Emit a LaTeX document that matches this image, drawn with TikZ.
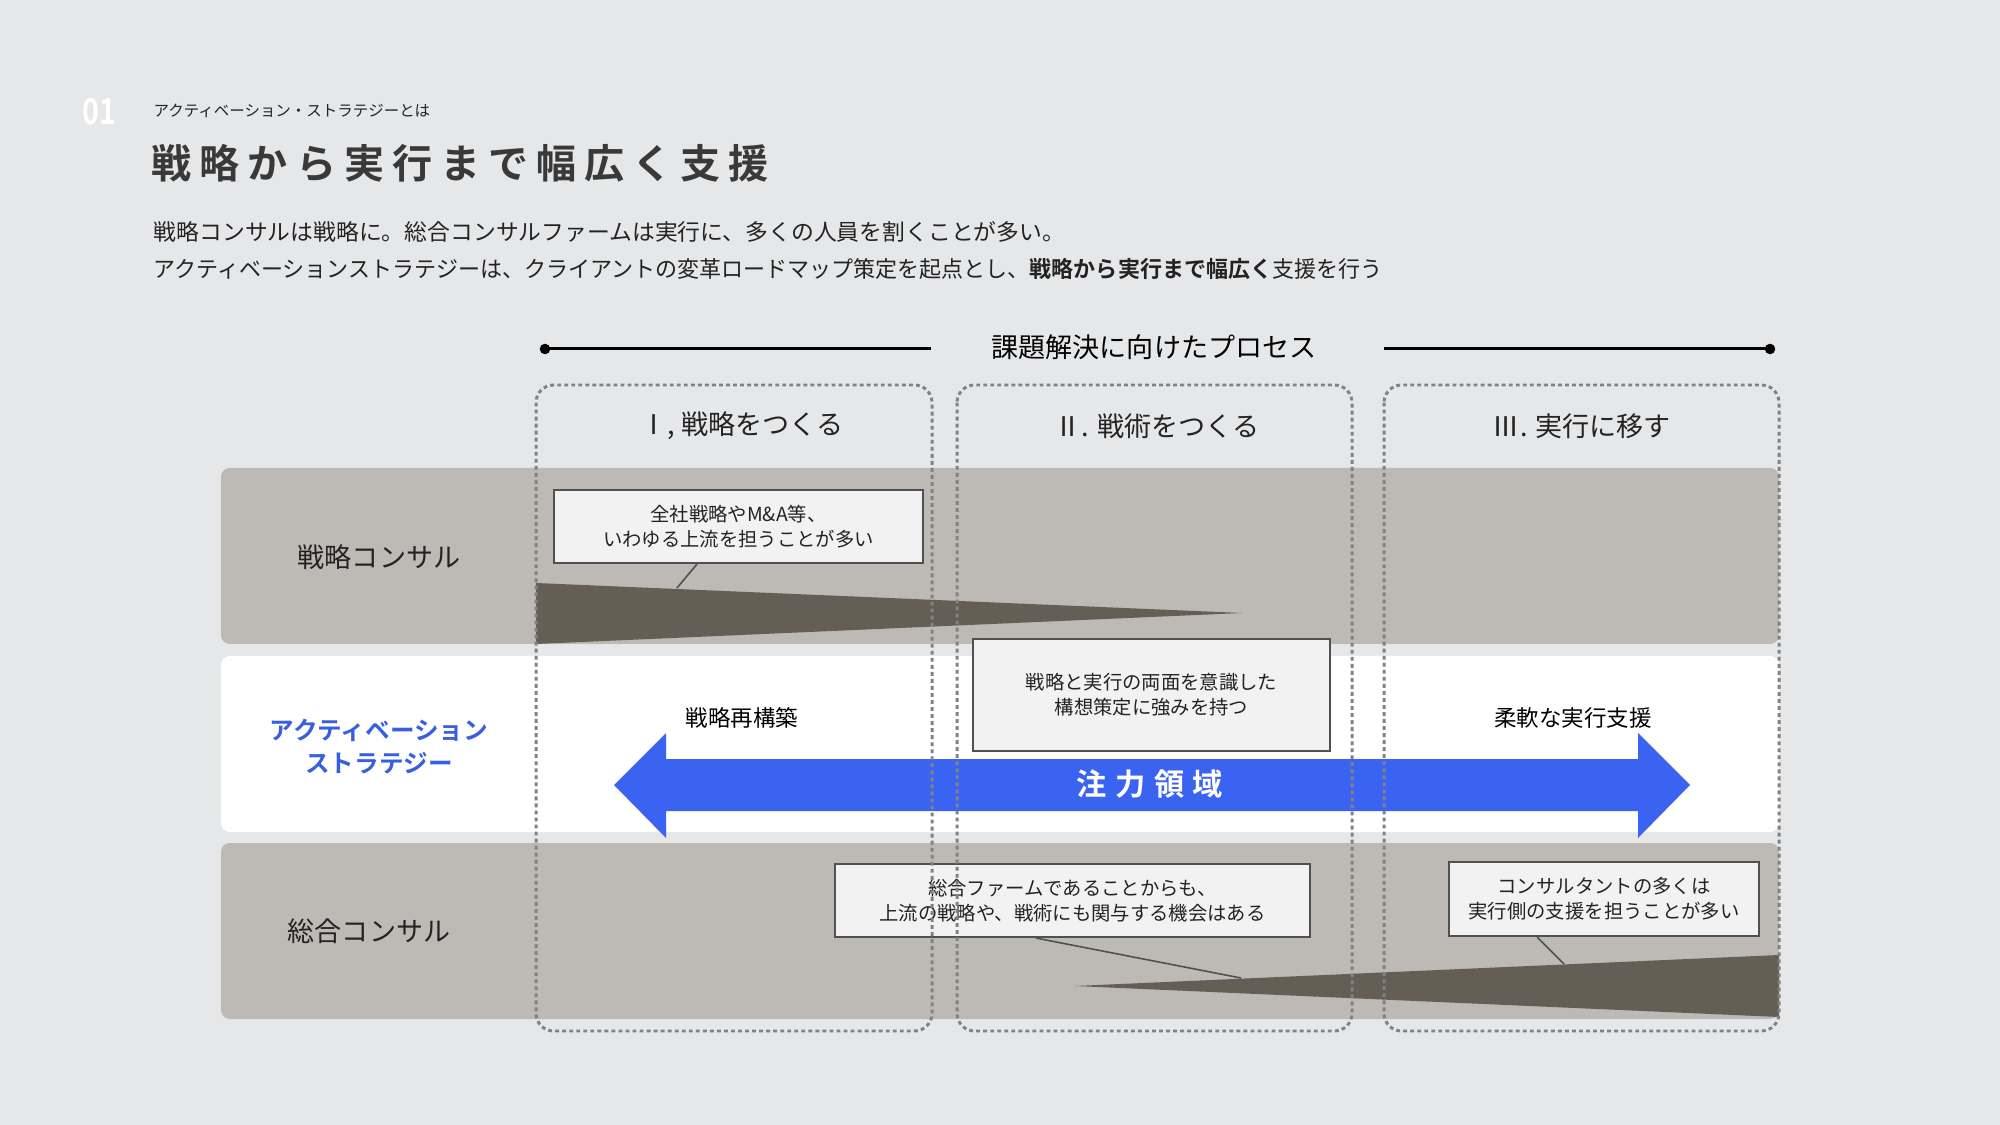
\documentclass[tikz,border=0pt]{standalone}
\usepackage{fontspec}
\usetikzlibrary{calc}
\setmainfont{Noto Sans CJK JP}[BoldFont={Noto Sans CJK JP Bold}]
\newfontfamily\titlefont{Noto Sans CJK JP Bold}[LetterSpace=20]
\newfontfamily\focusfont{Noto Sans CJK JP Bold}[LetterSpace=28]
\definecolor{bg}{RGB}{230,231,233}
\definecolor{bandgray}{RGB}{189,185,180}
\definecolor{darktri}{RGB}{100,94,85}
\definecolor{ablue}{RGB}{59,99,242}
\definecolor{textblue}{RGB}{55,95,225}
\definecolor{dotgray}{RGB}{130,130,130}
\definecolor{boxedge}{RGB}{80,80,80}
\definecolor{boxfill}{RGB}{242,242,242}
\definecolor{txt}{RGB}{35,35,35}
\tikzset{
  colbox/.style={draw=dotgray, line width=0.85pt, dash pattern=on 1.1pt off 0.9pt, rounded corners=5pt},
  callout/.style={draw=boxedge, fill=boxfill, line width=0.6pt, inner sep=0pt, align=center, text=txt,
    font=\fontsize{5.5}{7.1}\selectfont},
  leader/.style={draw=boxedge, line width=0.45pt},
  colhead/.style={text=txt, font=\fontsize{7.7}{9}\selectfont},
  bandlabel/.style={text=txt, font=\fontsize{7.7}{9}\selectfont},
  rowtext/.style={text=black, font=\fontsize{6.4}{8}\selectfont},
  bodytext/.style={anchor=west, text=txt, inner sep=0pt, font=\fontsize{6.4}{8}\selectfont},
  procline/.style={draw=black, line width=0.85pt},
}
\begin{document}
\begin{tikzpicture}[x=0.01cm, y=-0.01cm]
\fill[bg] (0,0) rectangle (2000,1125);
\useasboundingbox (0,0) rectangle (2000,1125);

% header texts
\node[anchor=west, inner sep=0pt, text=white, xscale=0.8, font=\bfseries\fontsize{10.2}{12}\selectfont] (num) at (82,112) {01};
\node[anchor=west, inner sep=0pt, text=txt, font=\fontsize{4.4}{5}\selectfont] (sub) at (153,111) {アクティベーション・ストラテジーとは};
\node[anchor=west, inner sep=0pt, text=txt!90, font=\titlefont\fontsize{11.4}{13}\selectfont] (title) at (151,163) {戦略から実行まで幅広く支援};
\node[bodytext, xscale=1.014] (body1) at (153,232) {戦略コンサルは戦略に。総合コンサルファームは実行に、多くの人員を割くことが多い。};
\node[bodytext, xscale=0.978] (body2) at (153,269) {アクティベーションストラテジーは、クライアントの変革ロードマップ策定を起点とし、\textbf{戦略から実行まで幅広く}支援を行う};

% process header
\node[text=black, font=\fontsize{7.7}{9}\selectfont] (proc) at (1154,347) {課題解決に向けたプロセス};
\coordinate (pL) at (545,349);
\coordinate (pLe) at (931,349);
\coordinate (pRs) at (1384,349);
\coordinate (pR) at (1770,349);
\draw[procline] (pL) -- (pLe);
\draw[procline] (pRs) -- (pR);
\fill (pL) circle[radius=1.5pt];
\fill (pR) circle[radius=1.5pt];

% column headers
\node[colhead] (h1) at (742,426) {Ⅰ, 戦略をつくる};
\node[colhead] (h2) at (1157,426) {Ⅱ. 戦術をつくる};
\node[colhead] (h3) at (1582,426) {Ⅲ. 実行に移す};

% bands
\fill[bandgray, rounded corners=2.5pt] (221,468) rectangle (1779,644);
\fill[white, rounded corners=2.5pt] (221,656) rectangle (1779,832);
\fill[bandgray, rounded corners=2.5pt] (221,843) rectangle (1779,1019);

% triangles
\fill[darktri] (536,583) -- (1242,613) -- (536,644) -- cycle;
\fill[darktri] (1075,986) -- (1779,955) -- (1779,1017) -- cycle;
\coordinate (t1p) at (677,588);
\coordinate (t3p) at (1241,978);
\coordinate (t4p) at (1564,964);

% blue double arrow
\fill[ablue] (614,785) -- (666,733) -- (666,759) -- (1638,759) -- (1638,733) -- (1690,785)
  -- (1638,838) -- (1638,811) -- (666,811) -- (666,838) -- cycle;
\node[text=white, font=\focusfont\fontsize{8.6}{10}\selectfont] (focus) at (1150,784) {注力領域};

% band labels
\node[bandlabel] (lab1) at (379,557) {戦略コンサル};
\node[align=center, text=textblue, font=\bfseries\fontsize{7}{9.4}\selectfont] (lab2) at (379,747) {アクティベーション\\ストラテジー};
\node[bandlabel] (lab3) at (369,931) {総合コンサル};

% row texts
\node[rowtext] (r1) at (742,718) {戦略再構築};
\node[rowtext] (r3) at (1573,718) {柔軟な実行支援};

% callouts
\node[callout, minimum width=3.69cm, minimum height=0.73cm] (c1) at (738.5,526.5) {全社戦略やM\&A等、\\いわゆる上流を担うことが多い};
\node[callout, minimum width=3.57cm, minimum height=1.12cm] (c2) at (1151.5,695) {戦略と実行の両面を意識した\\構想策定に強みを持つ};
\node[callout, minimum width=4.75cm, minimum height=0.73cm] (c3) at (1072.5,900.5) {総合ファームであることからも、\\上流の戦略や、戦術にも関与する機会はある};
\node[callout, minimum width=3.10cm, minimum height=0.74cm] (c4) at (1604,899) {コンサルタントの多くは\\実行側の支援を担うことが多い};

\draw[leader] ($(c1.south)+(-41.5,0)$) -- (t1p);
\draw[leader] ($(c3.south)+(-36.5,0)$) -- (t3p);
\draw[leader] ($(c4.south)+(-67,0)$) -- (t4p);

% dotted columns
\draw[colbox] (536,385) rectangle (932,1031);
\draw[colbox] (957,385) rectangle (1352,1031);
\draw[colbox] (1384,385) rectangle (1779,1031);
\end{tikzpicture}
\end{document}
